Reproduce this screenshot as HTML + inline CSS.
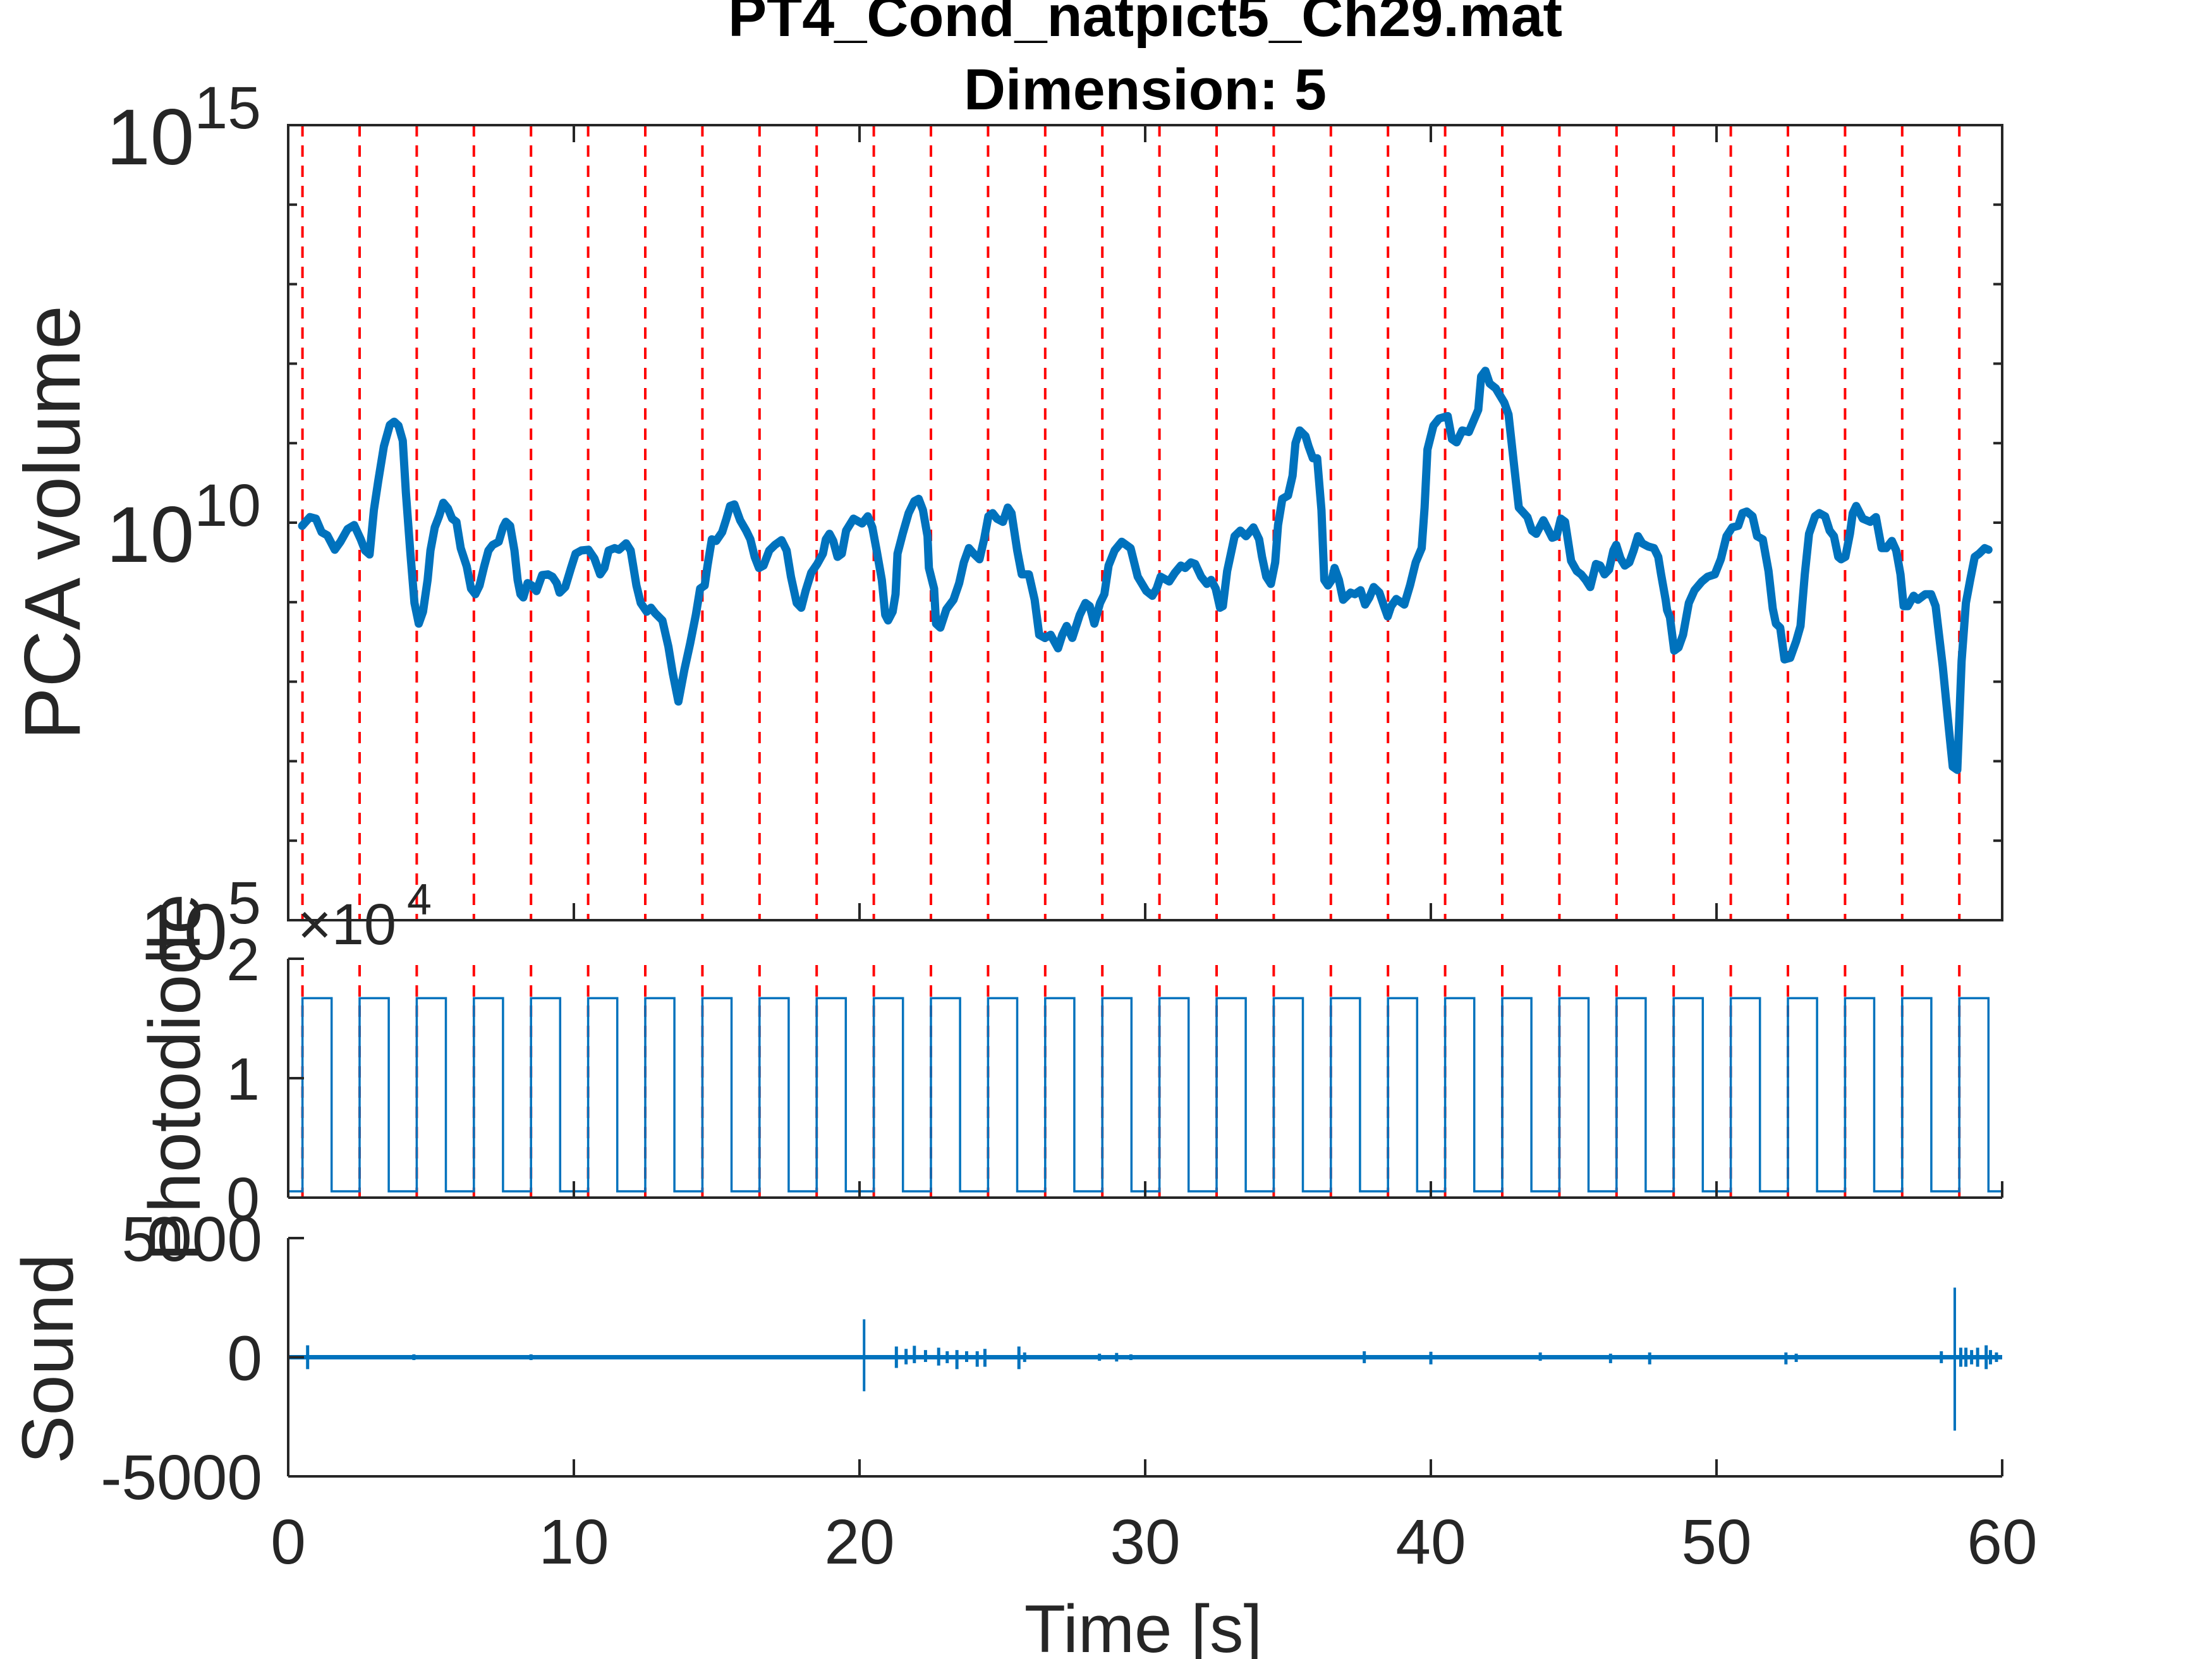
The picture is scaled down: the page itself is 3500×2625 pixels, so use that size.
<!DOCTYPE html>
<html><head><meta charset="utf-8">
<style>
html,body{margin:0;padding:0;background:#fff;}
svg{display:block;font-family:"Liberation Sans",Arial,sans-serif;}
</style></head>
<body>
<svg id="fig" xmlns="http://www.w3.org/2000/svg" width="3500" height="2625" viewBox="0 0 3500 2625">
<rect x="0" y="0" width="3500" height="2625" fill="#fff"/>
<text x="1812" y="57" text-anchor="middle" font-weight="bold" font-size="92" fill="#000" textLength="1320" lengthAdjust="spacingAndGlyphs">PT4_Cond_natpict5_Ch29.mat</text>
<text x="1812" y="173" text-anchor="middle" font-weight="bold" font-size="92" fill="#000" textLength="574" lengthAdjust="spacingAndGlyphs">Dimension: 5</text>
<g id="gTop"></g>
<g id="gPd"></g>
<g id="gSnd"></g>
<text transform="translate(126,827) rotate(-90)" text-anchor="middle" font-size="125" fill="#262626">PCA volume</text>
<text transform="translate(316,1705) rotate(-90)" text-anchor="middle" font-size="115" fill="#262626">Photodiode</text>
<text transform="translate(115,2150) rotate(-90)" text-anchor="middle" font-size="115" fill="#262626">Sound</text>
<text x="1809" y="2614" text-anchor="middle" font-size="107" fill="#262626">Time [s]</text>
</svg>
<script>
// ---- data ----
const pcaT = [0.49,0.76,0.97,1.17,1.37,1.63,1.83,2.08,2.31,2.54,2.69,2.85,3.00,3.15,3.35,3.56,3.71,3.86,4.01,4.12,4.27,4.42,4.57,4.72,4.88,4.98,5.13,5.28,5.43,5.59,5.74,5.89,6.04,6.25,6.40,6.55,6.70,6.86,7.01,7.16,7.37,7.52,7.62,7.77,7.92,8.03,8.13,8.23,8.38,8.53,8.69,8.89,9.09,9.25,9.40,9.50,9.70,9.90,10.06,10.26,10.51,10.72,10.92,11.07,11.22,11.43,11.58,11.83,11.99,12.19,12.34,12.55,12.70,12.85,13.10,13.31,13.46,13.66,13.87,14.07,14.27,14.42,14.58,14.68,14.83,14.98,15.19,15.34,15.47,15.62,15.82,16.03,16.18,16.33,16.48,16.64,16.84,17.04,17.27,17.45,17.60,17.80,17.96,18.11,18.31,18.52,18.72,18.82,18.95,19.08,19.23,19.38,19.53,19.79,20.09,20.29,20.45,20.60,20.78,20.90,21.00,21.16,21.26,21.33,21.51,21.72,21.92,22.07,22.22,22.38,22.43,22.61,22.68,22.83,23.04,23.29,23.49,23.65,23.83,24.00,24.20,24.36,24.51,24.66,24.81,25.02,25.19,25.32,25.52,25.68,25.93,26.13,26.29,26.49,26.69,26.95,27.10,27.25,27.45,27.71,27.91,28.06,28.22,28.42,28.57,28.72,28.93,29.18,29.49,29.74,30.04,30.25,30.40,30.54,30.84,31.04,31.25,31.40,31.60,31.75,31.96,32.16,32.31,32.47,32.62,32.72,32.87,33.13,33.33,33.53,33.79,33.99,34.09,34.24,34.40,34.55,34.65,34.80,35.00,35.16,35.26,35.41,35.61,35.72,35.87,36.02,36.17,36.27,36.40,36.53,36.63,36.78,36.93,37.19,37.34,37.54,37.70,37.85,38.00,38.20,38.36,38.49,38.61,38.79,39.07,39.27,39.47,39.68,39.78,39.88,40.09,40.29,40.59,40.74,40.90,41.10,41.33,41.66,41.76,41.91,42.06,42.27,42.57,42.72,42.93,43.08,43.38,43.54,43.69,43.94,44.25,44.40,44.55,44.70,44.91,45.11,45.26,45.42,45.58,45.78,45.93,46.08,46.24,46.39,46.49,46.64,46.79,46.95,47.10,47.25,47.40,47.61,47.81,47.96,48.06,48.22,48.27,48.37,48.52,48.67,48.83,49.03,49.23,49.49,49.69,49.94,50.15,50.35,50.55,50.76,50.91,51.06,51.26,51.42,51.62,51.82,51.97,52.08,52.23,52.38,52.58,52.79,52.94,53.09,53.24,53.45,53.60,53.80,53.96,54.11,54.26,54.36,54.51,54.67,54.77,54.89,55.12,55.38,55.58,55.78,55.94,56.14,56.29,56.44,56.55,56.70,56.90,57.05,57.31,57.51,57.67,57.92,58.12,58.27,58.43,58.58,58.73,58.88,59.04,59.19,59.39,59.52];
const pcaLog10 = [9.96,10.07,10.05,9.88,9.84,9.66,9.76,9.92,9.97,9.79,9.65,9.60,10.16,10.52,10.96,11.23,11.27,11.22,11.03,10.38,9.65,8.99,8.73,8.88,9.28,9.65,9.94,10.08,10.25,10.18,10.05,10.01,9.68,9.45,9.17,9.10,9.21,9.45,9.65,9.72,9.76,9.94,10.01,9.96,9.65,9.28,9.10,9.06,9.24,9.21,9.14,9.34,9.35,9.32,9.24,9.12,9.19,9.43,9.61,9.65,9.66,9.55,9.35,9.43,9.65,9.68,9.66,9.74,9.65,9.21,8.99,8.88,8.93,8.86,8.77,8.44,8.11,7.75,8.15,8.48,8.84,9.17,9.21,9.46,9.79,9.77,9.88,10.05,10.21,10.23,10.03,9.90,9.79,9.57,9.43,9.46,9.65,9.72,9.78,9.65,9.32,8.99,8.93,9.14,9.37,9.48,9.61,9.79,9.86,9.77,9.57,9.61,9.90,10.05,9.99,10.08,9.94,9.65,9.28,8.84,8.77,8.88,9.10,9.61,9.86,10.12,10.27,10.30,10.16,9.83,9.43,9.17,8.73,8.68,8.91,9.03,9.24,9.50,9.68,9.61,9.54,9.79,10.08,10.12,10.05,10.01,10.19,10.12,9.65,9.35,9.35,9.03,8.59,8.55,8.59,8.42,8.59,8.70,8.55,8.84,8.99,8.95,8.73,8.99,9.10,9.46,9.65,9.76,9.68,9.32,9.14,9.08,9.17,9.32,9.26,9.37,9.46,9.43,9.50,9.48,9.32,9.23,9.28,9.17,8.93,8.95,9.39,9.83,9.90,9.83,9.94,9.79,9.57,9.32,9.23,9.50,9.97,10.30,10.34,10.59,11.00,11.16,11.09,10.96,10.81,10.81,10.16,9.28,9.21,9.28,9.43,9.28,9.03,9.12,9.10,9.15,8.97,9.06,9.19,9.12,8.95,8.82,8.95,9.04,8.97,9.21,9.50,9.68,10.19,10.92,11.22,11.31,11.34,11.05,11.01,11.16,11.14,11.42,11.84,11.91,11.75,11.69,11.51,11.36,10.67,10.19,10.07,9.90,9.86,10.03,9.81,9.83,10.05,10.01,9.52,9.39,9.35,9.28,9.19,9.48,9.46,9.35,9.41,9.65,9.72,9.55,9.46,9.50,9.65,9.83,9.74,9.70,9.68,9.57,9.35,9.03,8.90,8.81,8.39,8.43,8.59,8.99,9.15,9.26,9.32,9.35,9.54,9.83,9.94,9.96,10.12,10.14,10.08,9.83,9.79,9.39,8.92,8.73,8.68,8.28,8.30,8.51,8.70,9.35,9.86,10.08,10.12,10.08,9.90,9.83,9.57,9.54,9.57,9.86,10.12,10.21,10.05,10.01,10.07,9.68,9.68,9.77,9.65,9.35,8.95,8.95,9.08,9.03,9.10,9.10,8.95,8.19,7.46,6.93,6.89,8.26,8.99,9.28,9.57,9.61,9.68,9.66];
const stimOnsets = [0.5,2.5,4.5,6.5,8.5,10.5,12.5,14.5,16.5,18.5,20.5,22.5,24.5,26.5,28.5,30.5,32.5,34.5,36.5,38.5,40.5,42.5,44.5,46.5,48.5,50.5,52.5,54.5,56.5,58.5];
const stimDuration = [1.02];
const pdHigh = [16700];
const pdLow = [530];
const soundT = [0.68,4.4,8.5,20.16,21.29,21.63,21.92,22.31,22.77,23.07,23.41,23.75,24.12,24.39,25.58,25.78,28.4,29.0,29.5,37.67,40.0,43.83,46.29,47.66,52.43,52.79,57.87,58.34,58.55,58.73,58.93,59.14,59.44,59.59,59.8];
const soundUp = [500,120,120,1590,450,350,480,300,400,250,300,250,250,350,450,200,150,180,120,250,230,200,150,200,200,150,250,2920,400,400,300,400,500,300,200];
const soundDown = [-500,-120,-120,-1430,-450,-300,-250,-200,-350,-250,-500,-200,-400,-400,-500,-200,-150,-180,-120,-250,-300,-150,-250,-300,-300,-200,-250,-3080,-400,-400,-300,-400,-500,-300,-200];
const xTicks = [0,10,20,30,40,50,60];
const xTickLabels = ["0","10","20","30","40","50","60"];
const topYExps = [15,10,5];
const pdTicks = [0,10000,20000];
const pdTickLabels = ["0","1","2"];
const sndTicks = [-5000,0,5000];
const sndTickLabels = ["-5000","0","5000"];

// ---- scales ----
const X0=456, X1=3168, TMAX=60;
function xs(t){return X0 + t*(X1-X0)/TMAX;}
const TOP_Y0=198, TOP_Y1=1456, EXP_MIN=5, EXP_MAX=15;
function yTop(e){return TOP_Y1 - (e-EXP_MIN)*(TOP_Y1-TOP_Y0)/(EXP_MAX-EXP_MIN);}
const PD_Y0=1517, PD_Y1=1895;
function yPd(v){return PD_Y1 - v*(PD_Y1-PD_Y0)/20000;}
const S_Y0=1959, S_Y1=2336;
function ySnd(v){return S_Y1 - (v+5000)*(S_Y1-S_Y0)/10000;}

const NS="http://www.w3.org/2000/svg";
function mk(tag, attrs, parent){const e=document.createElementNS(NS,tag);for(const k in attrs)e.setAttribute(k,attrs[k]);parent.appendChild(e);return e;}
const AX="#262626";
const gTop=document.getElementById('gTop'), gPd=document.getElementById('gPd'), gSnd=document.getElementById('gSnd');

// ---- top axes ----
stimOnsets.forEach(t=>{
  const l=mk('line',{x1:xs(t),x2:xs(t),y1:TOP_Y0,y2:TOP_Y1,stroke:'#ff0000','stroke-width':4,'stroke-dasharray':'18 14'},gTop);
  
  
});
let d='';
pcaT.forEach((t,i)=>{d+=(i?'L':'M')+xs(t).toFixed(1)+','+yTop(pcaLog10[i]).toFixed(1);});
const pl=mk('path',{d:d,fill:'none',stroke:'#0072BD','stroke-width':13,'stroke-linejoin':'round','stroke-linecap':'round'},gTop);


for(let e=EXP_MIN;e<=EXP_MAX;e++){
  const y=yTop(e);
  mk('line',{x1:X0,x2:X0+14,y1:y,y2:y,stroke:AX,'stroke-width':4},gTop);
  mk('line',{x1:X1,x2:X1-14,y1:y,y2:y,stroke:AX,'stroke-width':4},gTop);
}
xTicks.forEach(t=>{
  mk('line',{x1:xs(t),x2:xs(t),y1:TOP_Y1,y2:TOP_Y1-27,stroke:AX,'stroke-width':4},gTop);
  mk('line',{x1:xs(t),x2:xs(t),y1:TOP_Y0,y2:TOP_Y0+27,stroke:AX,'stroke-width':4},gTop);
});
const box=mk('rect',{x:X0,y:TOP_Y0,width:X1-X0,height:TOP_Y1-TOP_Y0,fill:'none',stroke:AX,'stroke-width':4},gTop);


topYExps.forEach(e=>{
  const y=yTop(e);
  const tx=mk('text',{x:413,y:y+62,'text-anchor':'end','font-size':125,fill:AX},gTop);
  
  
  const a=document.createElementNS(NS,'tspan');a.textContent='10';tx.appendChild(a);
  const b=document.createElementNS(NS,'tspan');b.setAttribute('font-size','95');b.setAttribute('dy','-57');b.textContent=String(e);tx.appendChild(b);
});

// ---- photodiode axes ----
stimOnsets.forEach(t=>{
  const l=mk('line',{x1:xs(t),x2:xs(t),y1:PD_Y0+10,y2:PD_Y1,stroke:'#ff0000','stroke-width':4,'stroke-dasharray':'18 14'},gPd);
  
  
});
let pd='M'+xs(0)+','+yPd(pdLow[0]);
stimOnsets.forEach(t=>{
  const t2=t+stimDuration[0];
  pd+='L'+xs(t).toFixed(1)+','+yPd(pdLow[0])+'L'+xs(t).toFixed(1)+','+yPd(pdHigh[0])+'L'+xs(t2).toFixed(1)+','+yPd(pdHigh[0])+'L'+xs(t2).toFixed(1)+','+yPd(pdLow[0]);
});
pd+='L'+xs(TMAX)+','+yPd(pdLow[0]);
const pdl=mk('path',{d:pd,fill:'none',stroke:'#0072BD','stroke-width':3.5},gPd);


mk('line',{x1:X0,x2:X0,y1:PD_Y0,y2:PD_Y1,stroke:AX,'stroke-width':4},gPd);
mk('line',{x1:X0,x2:X1,y1:PD_Y1,y2:PD_Y1,stroke:AX,'stroke-width':4},gPd);
pdTicks.forEach((v,i)=>{
  const y=yPd(v);
  mk('line',{x1:X0,x2:X0+25,y1:y,y2:y,stroke:AX,'stroke-width':4},gPd);
  const tx=mk('text',{x:411,y:y+34,'text-anchor':'end','font-size':95,fill:AX},gPd);
  tx.textContent=pdTickLabels[i];
  
  
});
xTicks.forEach(t=>{mk('line',{x1:xs(t),x2:xs(t),y1:PD_Y1,y2:PD_Y1-26,stroke:AX,'stroke-width':4},gPd);});
const ex=mk('text',{x:471,y:1494,'font-size':92,fill:AX},gPd);


ex.textContent='\u00d710';
const ex2=mk('text',{x:644,y:1447,'font-size':70,fill:AX},gPd);


ex2.textContent='4';

// ---- sound axes ----
const bl=mk('line',{x1:X0,x2:X1,y1:ySnd(0),y2:ySnd(0),stroke:'#0072BD','stroke-width':7},gSnd);


soundT.forEach((t,i)=>{
  const s=mk('line',{x1:xs(t),x2:xs(t),y1:ySnd(soundUp[i]),y2:ySnd(soundDown[i]),stroke:'#0072BD','stroke-width':Math.abs(soundUp[i])>1000?4:5},gSnd);
  
  
});
mk('line',{x1:X0,x2:X0,y1:S_Y0,y2:S_Y1,stroke:AX,'stroke-width':4},gSnd);
mk('line',{x1:X0,x2:X1,y1:S_Y1,y2:S_Y1,stroke:AX,'stroke-width':4},gSnd);
sndTicks.forEach((v,i)=>{
  const y=ySnd(v);
  mk('line',{x1:X0,x2:X0+25,y1:y,y2:y,stroke:AX,'stroke-width':4},gSnd);
  const tx=mk('text',{x:415,y:y+36,'text-anchor':'end','font-size':100,fill:AX},gSnd);
  tx.textContent=sndTickLabels[i];
  
  
});
xTicks.forEach((t,i)=>{
  mk('line',{x1:xs(t),x2:xs(t),y1:S_Y1,y2:S_Y1-27,stroke:AX,'stroke-width':4},gSnd);
  const tx=mk('text',{x:xs(t),y:2474,'text-anchor':'middle','font-size':100,fill:AX},gSnd);
  tx.textContent=xTickLabels[i];
  
  
});
</script>
</body></html>
